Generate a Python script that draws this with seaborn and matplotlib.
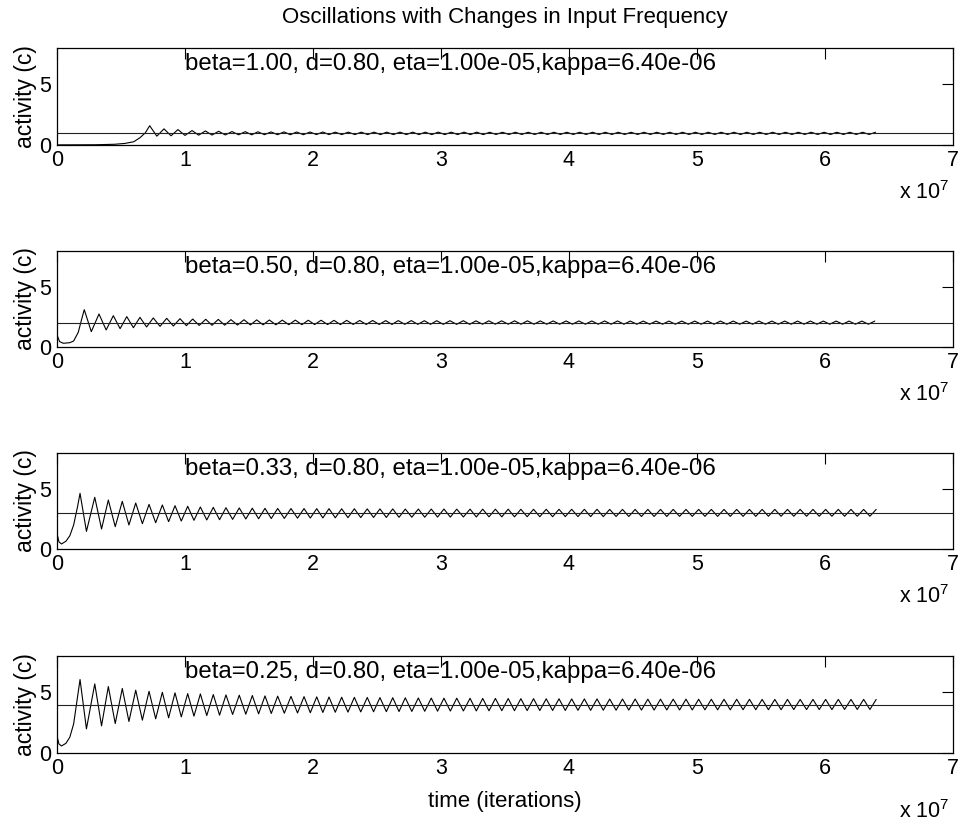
import numpy as np
import pandas as pd
import matplotlib
matplotlib.use("Agg")
import matplotlib.pyplot as plt
import seaborn as sns

# ---------------- data (time in units of 1e7 iterations) ----------------
betas = [1.00, 0.50, 0.33, 0.25]
d_value = 0.80
eta_value = "1.00e-05"
kappa_value = "6.40e-06"
target_levels = [1.0, 2.0, 3.0, 4.0]
x_ticks = [0, 1, 2, 3, 4, 5, 6, 7]
y_ticks = [0, 5]
title_text = "Oscillations with Changes in Input Frequency"
ylabel_text = "activity (c)"
xlabel_text = "time (iterations)"

# panel 1 (beta = 1.00)
p1_start_t = [0.00, 0.30, 0.45, 0.53, 0.60, 0.648, 0.690]
p1_start_v = [0.01, 0.02, 0.06, 0.13, 0.27, 0.60, 1.00]
p1_peak_t = [0.724, 0.836, 0.945, 1.055, 1.159, 1.263, 1.367, 1.471, 1.570, 1.672,
             1.773, 1.872, 1.977, 2.076, 2.174, 2.276, 2.377, 2.477, 2.576, 2.680,
             2.779, 2.877, 2.979, 3.080, 3.180, 3.279, 3.380, 3.480, 3.581, 3.681,
             3.782, 3.882, 3.983, 4.083, 4.184, 4.284, 4.385, 4.485, 4.586, 4.686,
             4.787, 4.887, 4.988, 5.088, 5.189, 5.289, 5.390, 5.490, 5.591, 5.691,
             5.792, 5.892, 5.993, 6.093, 6.194, 6.294, 6.395]
p1_peak_v = [1.59, 1.33, 1.27, 1.19, 1.16, 1.13, 1.11, 1.10, 1.09, 1.08,
             1.08, 1.07, 1.07, 1.07, 1.06, 1.06, 1.06, 1.06, 1.06, 1.06,
             1.06, 1.06, 1.06, 1.06, 1.06, 1.06, 1.05, 1.05, 1.05, 1.05,
             1.05, 1.05, 1.05, 1.05, 1.05, 1.05, 1.05, 1.05, 1.05, 1.05,
             1.05, 1.05, 1.05, 1.05, 1.05, 1.05, 1.05, 1.05, 1.05, 1.05,
             1.05, 1.05, 1.05, 1.05, 1.05, 1.05, 1.05]
p1_trough_t = [0.780, 0.891, 1.000, 1.107, 1.211, 1.315, 1.419, 1.521, 1.621, 1.723,
               1.823, 1.925, 2.027, 2.125, 2.225, 2.327, 2.427, 2.527, 2.628, 2.730,
               2.828, 2.928, 3.030, 3.130, 3.230, 3.330, 3.430, 3.531, 3.631, 3.732,
               3.832, 3.933, 4.033, 4.134, 4.234, 4.335, 4.435, 4.536, 4.636, 4.737,
               4.837, 4.938, 5.038, 5.139, 5.239, 5.340, 5.440, 5.541, 5.641, 5.742,
               5.842, 5.943, 6.043, 6.144, 6.244, 6.345]
p1_trough_v = [0.73, 0.76, 0.79, 0.81, 0.82, 0.83, 0.84, 0.84, 0.85, 0.85,
               0.85, 0.85, 0.86, 0.86, 0.86, 0.86, 0.86, 0.86, 0.86, 0.86,
               0.86, 0.86, 0.86, 0.86, 0.86, 0.86, 0.87, 0.87, 0.87, 0.87,
               0.87, 0.87, 0.87, 0.87, 0.87, 0.87, 0.87, 0.87, 0.87, 0.87,
               0.87, 0.87, 0.87, 0.87, 0.87, 0.87, 0.87, 0.87, 0.87, 0.87,
               0.87, 0.87, 0.87, 0.87, 0.87, 0.87]

# panel 2 (beta = 0.50)
p2_start_t = [0.00, 0.02, 0.05, 0.10, 0.13, 0.166, 0.193]
p2_start_v = [1.00, 0.45, 0.31, 0.36, 0.50, 1.22, 2.33]
p2_peak_t = [0.213, 0.328, 0.440, 0.545, 0.648, 0.752, 0.857, 0.961, 1.060, 1.162,
             1.260, 1.359, 1.461, 1.560, 1.659, 1.760, 1.862, 1.963, 2.063, 2.164,
             2.263, 2.365, 2.466, 2.568, 2.666, 2.768, 2.870, 2.966, 3.070, 3.174,
             3.273, 3.374, 3.474, 3.575, 3.675, 3.776, 3.876, 3.977, 4.077, 4.178,
             4.278, 4.379, 4.479, 4.580, 4.680, 4.781, 4.881, 4.982, 5.082, 5.183,
             5.283, 5.384, 5.484, 5.585, 5.685, 5.786, 5.886, 5.987, 6.087, 6.188,
             6.288, 6.389]
p2_peak_v = [3.11, 2.75, 2.61, 2.53, 2.47, 2.42, 2.39, 2.36, 2.33, 2.31,
             2.30, 2.28, 2.27, 2.26, 2.25, 2.24, 2.24, 2.23, 2.23, 2.22,
             2.22, 2.21, 2.21, 2.20, 2.20, 2.20, 2.19, 2.19, 2.19, 2.19,
             2.18, 2.18, 2.18, 2.18, 2.18, 2.17, 2.17, 2.17, 2.17, 2.17,
             2.17, 2.17, 2.16, 2.16, 2.16, 2.16, 2.16, 2.16, 2.16, 2.16,
             2.16, 2.16, 2.16, 2.16, 2.16, 2.16, 2.16, 2.16, 2.16, 2.16,
             2.16, 2.16]
p2_trough_t = [0.268, 0.384, 0.493, 0.597, 0.700, 0.805, 0.909, 1.011, 1.111, 1.211,
               1.310, 1.410, 1.511, 1.610, 1.710, 1.811, 1.913, 2.013, 2.114, 2.214,
               2.314, 2.416, 2.517, 2.617, 2.717, 2.819, 2.918, 3.018, 3.122, 3.224,
               3.324, 3.424, 3.525, 3.625, 3.726, 3.826, 3.927, 4.027, 4.128, 4.228,
               4.329, 4.429, 4.530, 4.630, 4.731, 4.831, 4.932, 5.032, 5.133, 5.233,
               5.334, 5.434, 5.535, 5.635, 5.736, 5.836, 5.937, 6.037, 6.138, 6.238,
               6.339]
p2_trough_v = [1.28, 1.42, 1.53, 1.61, 1.67, 1.72, 1.75, 1.78, 1.80, 1.81,
               1.82, 1.83, 1.84, 1.85, 1.85, 1.86, 1.86, 1.87, 1.87, 1.87,
               1.88, 1.88, 1.88, 1.88, 1.89, 1.89, 1.89, 1.89, 1.89, 1.89,
               1.90, 1.90, 1.90, 1.90, 1.90, 1.90, 1.90, 1.90, 1.90, 1.90,
               1.90, 1.90, 1.90, 1.90, 1.90, 1.90, 1.90, 1.90, 1.90, 1.90,
               1.90, 1.90, 1.90, 1.90, 1.90, 1.90, 1.90, 1.90, 1.90, 1.90,
               1.90]

# panels 3 and 4 share the same timing of extrema (read identical in the picture)
p34_peak_t = [0.180, 0.295, 0.401, 0.510, 0.615, 0.719, 0.823, 0.922, 1.021, 1.120,
              1.221, 1.320, 1.424, 1.526, 1.625, 1.724, 1.828, 1.930, 2.029, 2.125,
              2.224, 2.323, 2.424, 2.523, 2.623, 2.721, 2.823, 2.924, 3.023, 3.123,
              3.227, 3.326, 3.425, 3.525, 3.624, 3.723, 3.822, 3.922, 4.021, 4.120,
              4.219, 4.318, 4.418, 4.517, 4.616, 4.715, 4.814, 4.914, 5.013, 5.112,
              5.211, 5.310, 5.410, 5.509, 5.608, 5.707, 5.806, 5.906, 6.005, 6.104,
              6.203, 6.302, 6.400]
p34_trough_t = [0.230, 0.348, 0.455, 0.562, 0.667, 0.771, 0.872, 0.971, 1.070, 1.170,
                1.270, 1.372, 1.475, 1.575, 1.674, 1.776, 1.879, 1.979, 2.077, 2.174,
                2.273, 2.373, 2.473, 2.573, 2.672, 2.772, 2.873, 2.973, 3.073, 3.175,
                3.276, 3.375, 3.475, 3.574, 3.673, 3.772, 3.872, 3.971, 4.070, 4.169,
                4.268, 4.368, 4.467, 4.566, 4.665, 4.764, 4.864, 4.963, 5.062, 5.161,
                5.260, 5.360, 5.459, 5.558, 5.657, 5.756, 5.856, 5.955, 6.054, 6.153,
                6.252, 6.351]

# panel 3 (beta = 0.33)
p3_start_t = [0.00, 0.015, 0.035, 0.07, 0.10, 0.13, 0.16]
p3_start_v = [1.30, 0.60, 0.42, 0.65, 1.10, 2.00, 3.50]
p3_peak_v = [4.64, 4.31, 4.08, 3.97, 3.83, 3.72, 3.67, 3.61, 3.56, 3.50,
             3.47, 3.44, 3.42, 3.40, 3.39, 3.38, 3.37, 3.37, 3.36, 3.36,
             3.35, 3.35, 3.34, 3.34, 3.34, 3.33, 3.33, 3.33, 3.33, 3.32,
             3.32, 3.32, 3.32, 3.32, 3.31, 3.31, 3.31, 3.31, 3.31, 3.31,
             3.31, 3.30, 3.30, 3.30, 3.30, 3.30, 3.30, 3.30, 3.30, 3.30,
             3.30, 3.30, 3.30, 3.30, 3.30, 3.30, 3.30, 3.30, 3.30, 3.30,
             3.30, 3.30, 3.30]
p3_trough_v = [1.47, 1.67, 1.86, 2.00, 2.11, 2.19, 2.28, 2.33, 2.39, 2.42,
               2.44, 2.47, 2.50, 2.52, 2.54, 2.55, 2.57, 2.58, 2.59, 2.60,
               2.61, 2.62, 2.63, 2.63, 2.64, 2.65, 2.65, 2.66, 2.66, 2.67,
               2.67, 2.68, 2.68, 2.68, 2.69, 2.69, 2.69, 2.70, 2.70, 2.70,
               2.70, 2.71, 2.71, 2.71, 2.71, 2.71, 2.72, 2.72, 2.72, 2.72,
               2.72, 2.72, 2.72, 2.73, 2.73, 2.73, 2.73, 2.73, 2.73, 2.73,
               2.73, 2.73]

# panel 4 (beta = 0.25)
p4_start_t = [0.00, 0.015, 0.035, 0.07, 0.10, 0.13, 0.155]
p4_start_v = [1.40, 0.75, 0.58, 0.80, 1.30, 2.40, 4.20]
p4_peak_v = [6.06, 5.70, 5.48, 5.32, 5.18, 5.09, 5.01, 4.96, 4.90, 4.87,
             4.82, 4.79, 4.77, 4.74, 4.71, 4.69, 4.67, 4.65, 4.63, 4.62,
             4.60, 4.59, 4.58, 4.57, 4.56, 4.55, 4.54, 4.53, 4.52, 4.52,
             4.51, 4.50, 4.50, 4.49, 4.48, 4.48, 4.47, 4.47, 4.46, 4.46,
             4.46, 4.45, 4.45, 4.45, 4.44, 4.44, 4.44, 4.44, 4.43, 4.43,
             4.43, 4.43, 4.43, 4.42, 4.42, 4.42, 4.42, 4.42, 4.42, 4.42,
             4.42, 4.42, 4.42]
p4_trough_v = [1.99, 2.24, 2.43, 2.60, 2.71, 2.82, 2.90, 2.98, 3.04, 3.09,
               3.12, 3.18, 3.20, 3.23, 3.26, 3.28, 3.30, 3.32, 3.34, 3.36,
               3.37, 3.39, 3.40, 3.41, 3.42, 3.43, 3.44, 3.45, 3.46, 3.47,
               3.47, 3.48, 3.49, 3.49, 3.50, 3.50, 3.51, 3.51, 3.52, 3.52,
               3.53, 3.53, 3.54, 3.54, 3.54, 3.55, 3.55, 3.55, 3.56, 3.56,
               3.56, 3.57, 3.57, 3.57, 3.57, 3.58, 3.58, 3.58, 3.58, 3.59,
               3.59, 3.59]


def build_series(st, sv, pt, pv, tt, tv):
    n1 = min(len(pt), len(pv))
    n2 = min(len(tt), len(tv))
    t = np.concatenate([np.asarray(st, float), np.asarray(pt[:n1], float), np.asarray(tt[:n2], float)])
    v = np.concatenate([np.asarray(sv, float), np.asarray(pv[:n1], float), np.asarray(tv[:n2], float)])
    order = np.argsort(t, kind="stable")
    return pd.DataFrame({"t": t[order], "c": v[order]})


panels = [
    build_series(p1_start_t, p1_start_v, p1_peak_t, p1_peak_v, p1_trough_t, p1_trough_v),
    build_series(p2_start_t, p2_start_v, p2_peak_t, p2_peak_v, p2_trough_t, p2_trough_v),
    build_series(p3_start_t, p3_start_v, p34_peak_t, p3_peak_v, p34_trough_t, p3_trough_v),
    build_series(p4_start_t, p4_start_v, p34_peak_t, p4_peak_v, p34_trough_t, p4_trough_v),
]

# ---------------- figure ----------------
sns.set_style("white")
plt.rcParams["font.family"] = ["Liberation Sans", "DejaVu Sans"]
plt.rcParams["mathtext.default"] = "regular"
plt.rcParams["text.color"] = "black"
plt.rcParams["axes.labelcolor"] = "black"
plt.rcParams["xtick.color"] = "black"
plt.rcParams["ytick.color"] = "black"

W, H = 962, 825
fig = plt.figure(figsize=(W / 100, H / 100), dpi=100)

left_px, right_px = 57, 953
boxes_px = [(48, 145), (251, 347), (453, 549), (656, 753)]
exp_offsets = [48, 48, 48, 59]

for i, (df, beta, lvl) in enumerate(zip(panels, betas, target_levels)):
    top, bot = boxes_px[i]
    ax = fig.add_axes([left_px / W, 1 - bot / H, (right_px - left_px) / W, (bot - top) / H])
    sns.lineplot(data=df, x="t", y="c", ax=ax, color="black", linewidth=0.8,
                 sort=False, estimator=None)
    ax.axhline(lvl, color="#222222", linewidth=0.8)
    ax.set_xlim(0, 7)
    ax.set_ylim(0, 8)
    ax.set_xticks(x_ticks)
    ax.set_yticks(y_ticks)
    ax.set_xticklabels([str(v) for v in x_ticks])
    ax.set_yticklabels([str(v) for v in y_ticks])
    ax.tick_params(direction="in", top=True, right=True, length=8, width=0.8,
                   labelsize=15.5, pad=3.5, colors="black", labelcolor="black")
    ax.tick_params(axis="y", pad=4)
    for s in ax.spines.values():
        s.set_visible(True)
        s.set_color("black")
        s.set_linewidth(0.9)
    ax.set_ylabel(ylabel_text, fontsize=16.5, labelpad=2, color="black")
    if i == 3:
        ax.set_xlabel(xlabel_text, fontsize=16, labelpad=9, color="black")
    else:
        ax.set_xlabel("")
    label = f"beta={beta:.2f}, d={d_value:.2f}, eta={eta_value},kappa={kappa_value}"
    ax.text(1.0, 6.2, label, fontsize=17.3, ha="left", va="baseline", color="black")
    ax.text((899 - left_px) / (right_px - left_px), -exp_offsets[i] / (bot - top),
            r"x 10$^{7}$", transform=ax.transAxes, fontsize=15.5, ha="left", va="center",
            color="black")

fig.text(504.5 / W, 1 - 18 / H, title_text, fontsize=16, ha="center", va="center", color="black")

fig.savefig("out.png", dpi=100, facecolor="white")
